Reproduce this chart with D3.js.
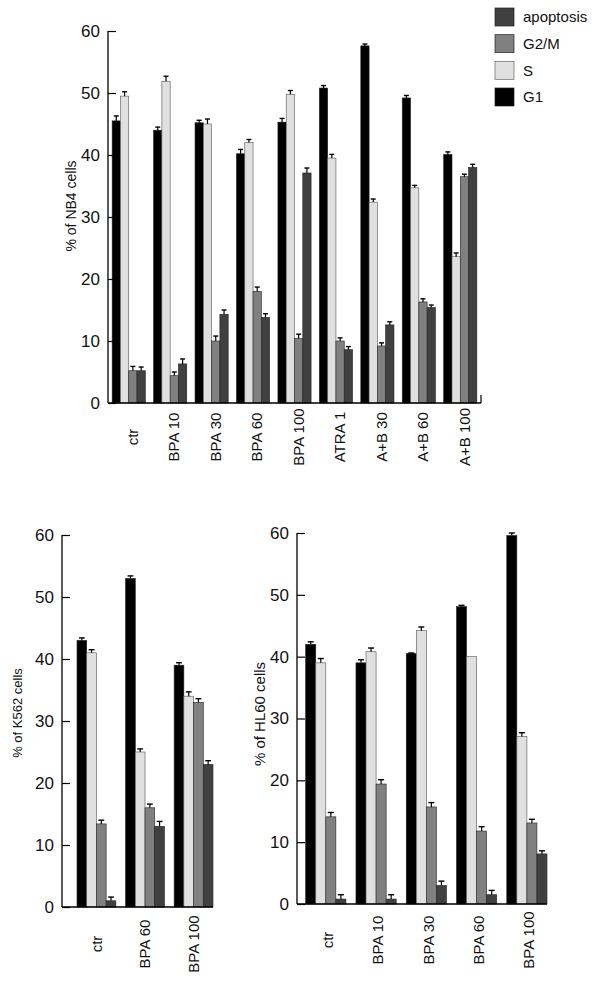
<!DOCTYPE html>
<html><head><meta charset="utf-8">
<script src="https://cdn.jsdelivr.net/npm/d3@7"></script>
<style>body{margin:0;background:#fff}svg{display:block;font-family:"Liberation Sans",Arial,sans-serif}</style>
</head><body>
<svg id="c" width="600" height="990"></svg>
<script>
// ---- data ----
const seriesNames = ["G1", "S", "G2/M", "apoptosis"];
const seriesColors = ["#000000", "#e0e0e0", "#808080", "#404040"];
const legendOrder = ["apoptosis", "G2/M", "S", "G1"];
const yTicks = [0, 10, 20, 30, 40, 50, 60];

const nb4Categories = ["ctr", "BPA 10", "BPA 30", "BPA 60", "BPA 100", "ATRA 1", "A+B 30", "A+B 60", "A+B 100"];
const nb4G1   = [45.5, 44.0, 45.2, 40.2, 45.3, 50.8, 57.6, 49.2, 40.1];
const nb4S    = [49.5, 51.9, 45.0, 42.0, 49.8, 39.5, 32.4, 34.7, 23.6];
const nb4G2M  = [5.2, 4.4, 10.0, 18.0, 10.4, 10.0, 9.2, 16.3, 36.5];
const nb4Apop = [5.2, 6.3, 14.3, 13.8, 37.1, 8.6, 12.6, 15.4, 38.0];
const nb4G1Err   = [0.8, 0.5, 0.4, 0.7, 0.6, 0.4, 0.3, 0.4, 0.4];
const nb4SErr    = [0.7, 0.8, 0.8, 0.5, 0.6, 0.6, 0.5, 0.4, 0.6];
const nb4G2MErr  = [0.7, 0.6, 0.8, 0.7, 0.7, 0.5, 0.5, 0.5, 0.4];
const nb4ApopErr = [0.6, 0.8, 0.7, 0.6, 0.8, 0.5, 0.5, 0.4, 0.5];

const k562Categories = ["ctr", "BPA 60", "BPA 100"];
const k562G1   = [43.0, 53.0, 39.0];
const k562S    = [41.0, 25.0, 34.0];
const k562G2M  = [13.4, 16.0, 33.0];
const k562Apop = [1.0, 13.0, 23.0];
const k562G1Err   = [0.4, 0.4, 0.4];
const k562SErr    = [0.5, 0.5, 0.7];
const k562G2MErr  = [0.6, 0.6, 0.6];
const k562ApopErr = [0.6, 0.8, 0.6];

const hl60Categories = ["ctr", "BPA 10", "BPA 30", "BPA 60", "BPA 100"];
const hl60G1   = [42.0, 39.0, 40.5, 48.1, 59.6];
const hl60S    = [39.0, 40.8, 44.2, 40.0, 27.1];
const hl60G2M  = [14.1, 19.4, 15.7, 11.8, 13.1];
const hl60Apop = [0.8, 0.8, 3.0, 1.5, 8.1];
const hl60G1Err   = [0.4, 0.5, 0.1, 0.2, 0.4];
const hl60SErr    = [0.7, 0.6, 0.6, 0.0, 0.6];
const hl60G2MErr  = [0.7, 0.7, 0.7, 0.7, 0.6];
const hl60ApopErr = [0.7, 0.7, 0.7, 0.7, 0.5];

// ---- drawing ----
const svg = d3.select("#c");
const FONT = '"Liberation Sans", Arial, sans-serif';

function drawChart(o) {
  const g = svg.append("g");
  const y = d3.scaleLinear().domain([0, 60]).range([o.y0, o.y1]);
  const x = d3.scaleBand().domain(o.categories).range([o.bx0, o.bx1]).paddingInner(o.pi).paddingOuter(o.po);
  const xs = d3.scaleBand().domain(seriesNames).range([0, x.bandwidth()]);
  const vals = [o.g1, o.s, o.g2m, o.apop];
  const errs = [o.g1e, o.se, o.g2me, o.apope];

  // bars
  seriesNames.forEach((sn, si) => {
    const data = o.categories.map((c, i) => ({c, v: vals[si][i], e: errs[si][i]}));
    const sg = g.append("g");
    sg.selectAll("rect").data(data).join("rect")
      .attr("x", d => x(d.c) + xs(sn))
      .attr("y", d => y(d.v))
      .attr("width", xs.bandwidth())
      .attr("height", d => y(0) - y(d.v))
      .attr("fill", seriesColors[si])
      .attr("stroke", si === 1 ? "#555" : "#222")
      .attr("stroke-width", 0.6);
    const eg = sg.selectAll("g.err").data(data.filter(d => d.e > 0)).join("g").attr("class", "err");
    const cx = d => x(d.c) + xs(sn) + xs.bandwidth() / 2;
    eg.append("line").attr("x1", cx).attr("x2", cx)
      .attr("y1", d => y(d.v)).attr("y2", d => y(d.v + d.e))
      .attr("stroke", "#000").attr("stroke-width", 1.2);
    eg.append("line").attr("x1", d => cx(d) - xs.bandwidth() * 0.3).attr("x2", d => cx(d) + xs.bandwidth() * 0.3)
      .attr("y1", d => y(d.v + d.e)).attr("y2", d => y(d.v + d.e))
      .attr("stroke", "#000").attr("stroke-width", 1.4);
  });

  // y axis
  const ya = g.append("g").attr("transform", `translate(${o.ax},0)`)
    .call(d3.axisLeft(y).tickValues(yTicks).tickSize(-8).tickPadding(8).tickFormat(d3.format("d")));
  ya.attr("font-family", FONT).attr("font-size", o.tickFont);
  ya.select(".domain").remove();
  ya.selectAll("line").attr("stroke", "#000").attr("stroke-width", 1.2);
  ya.selectAll("text").attr("fill", "#111");
  g.append("line").attr("x1", o.ax).attr("x2", o.ax).attr("y1", y(60)).attr("y2", y(0))
    .attr("stroke", "#000").attr("stroke-width", 1.3);
  // x axis line
  g.append("line").attr("x1", o.ax).attr("x2", o.axEnd).attr("y1", y(0)).attr("y2", y(0))
    .attr("stroke", "#000").attr("stroke-width", 1.3);
  if (o.endTick) {
    g.append("line").attr("x1", o.axEnd).attr("x2", o.axEnd).attr("y1", y(0)).attr("y2", y(0) - 8)
      .attr("stroke", "#000").attr("stroke-width", 1.2);
  }
  // x labels (rotated)
  g.selectAll("text.xl").data(o.categories).join("text").attr("class", "xl")
    .attr("transform", d => `translate(${x(d) + x.bandwidth() / 2 + o.lblDx},${o.lblY}) rotate(-90)`)
    .attr("text-anchor", "middle").attr("dy", "0.35em")
    .attr("font-size", o.lblFont).attr("fill", "#111").text(d => d);
  // y title
  g.append("text").attr("transform", `translate(${o.titleX},${o.titleY}) rotate(-90)`)
    .attr("text-anchor", "middle").attr("dy", "0.35em")
    .attr("font-size", o.titleFont).attr("fill", "#111").text(o.title);
}

drawChart({categories: nb4Categories, g1: nb4G1, s: nb4S, g2m: nb4G2M, apop: nb4Apop,
  g1e: nb4G1Err, se: nb4SErr, g2me: nb4G2MErr, apope: nb4ApopErr,
  y0: 403, y1: 31, bx0: 108, bx1: 481, pi: 0.2, po: 0.1, ax: 108, axEnd: 481, endTick: true,
  tickFont: 17, lblY: 437, lblDx: 4, lblFont: 15, title: "% of NB4 cells", titleX: 71, titleY: 206, titleFont: 14});

drawChart({categories: k562Categories, g1: k562G1, s: k562S, g2m: k562G2M, apop: k562Apop,
  g1e: k562G1Err, se: k562SErr, g2me: k562G2MErr, apope: k562ApopErr,
  y0: 907, y1: 535, bx0: 77, bx1: 213, pi: 0.2, po: 0, ax: 62, axEnd: 213, endTick: false,
  tickFont: 17, lblY: 944, lblDx: 0, lblFont: 15, title: "% of K562 cells", titleX: 17, titleY: 713, titleFont: 13});

drawChart({categories: hl60Categories, g1: hl60G1, s: hl60S, g2m: hl60G2M, apop: hl60Apop,
  g1e: hl60G1Err, se: hl60SErr, g2me: hl60G2MErr, apope: hl60ApopErr,
  y0: 904, y1: 533, bx0: 305.7, bx1: 547, pi: 0.2, po: 0, ax: 297, axEnd: 547, endTick: false,
  tickFont: 17, lblY: 940, lblDx: 2, lblFont: 15, title: "% of HL60 cells", titleX: 260, titleY: 714, titleFont: 15});

// legend
const leg = svg.append("g");
const ly = d3.scalePoint().domain(legendOrder).range([17, 97]);
legendOrder.forEach(n => {
  const i = seriesNames.indexOf(n);
  leg.append("rect").attr("x", 495).attr("y", ly(n) - 9).attr("width", 19).attr("height", 18)
    .attr("fill", seriesColors[i]).attr("stroke", i === 1 ? "#666" : "#222").attr("stroke-width", 0.7);
  leg.append("text").attr("x", 523).attr("y", ly(n)).attr("dy", "0.35em")
    .attr("font-size", 15).attr("fill", "#111").text(n);
});
</script>
</body></html>
